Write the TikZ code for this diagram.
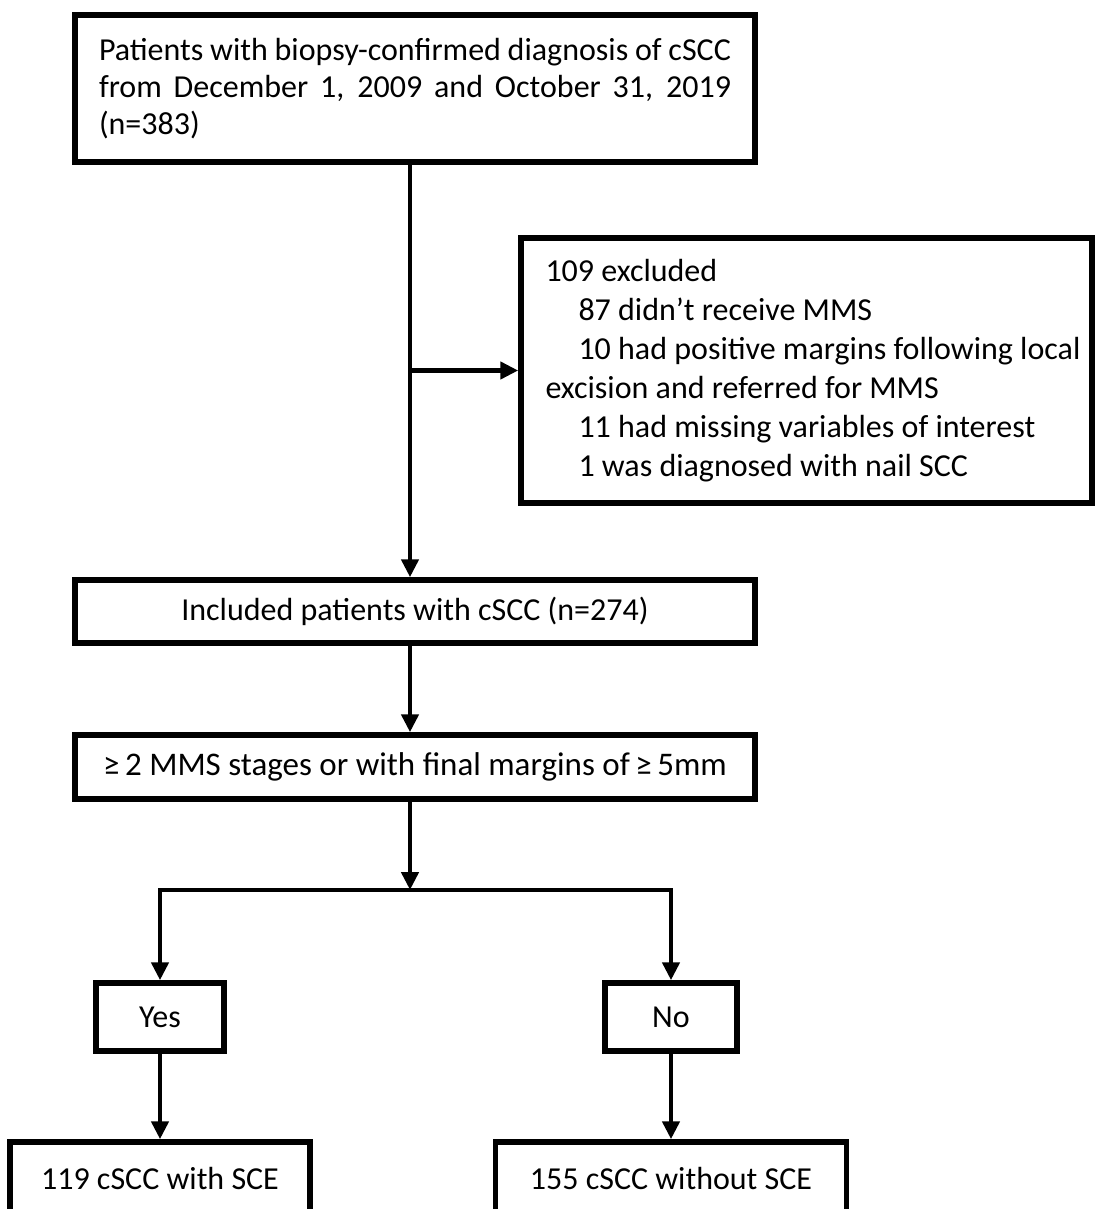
\documentclass[tikz,border=0pt]{standalone}
\usepackage{fontspec}
\setmainfont{Carlito}
\usetikzlibrary{arrows.meta,positioning}

\begin{document}
\begin{tikzpicture}[x=0.5pt,y=-0.5pt,
       box/.style={draw,line width=2.75pt,inner sep=0pt,align=center,font=\fontsize{16}{18.5}\selectfont},
       arr/.style={line width=2.25pt,-{Triangle[length=9pt,width=8.5pt]}}]
       \useasboundingbox (0,0) rectangle (1094,1209);

        \node[box,minimum width=340pt,minimum height=73.5pt] (top) at (415,88.5)
          {\parbox{316pt}{\makebox[316pt][s]{Patients with biopsy-confirmed diagnosis of cSCC}\\
           \makebox[316pt][s]{from December 1, 2009 and October 31, 2019}\\
           (n=383)}};
        \node[box,minimum width=285.5pt,minimum height=132.5pt,font=\fontsize{16}{19.5}\selectfont] (excl) at (806.5,370.5)
          {\parbox{261pt}{\hfuzz=20pt 109 excluded\\
           \hspace*{16.5pt}\mbox{87 didn’t receive MMS}\\
           \hspace*{16.5pt}\mbox{10 had positive margins following local}\\
           \mbox{excision and referred for MMS}\\
           \hspace*{16.5pt}\mbox{11 had missing variables of interest}\\
           \hspace*{16.5pt}\mbox{1 was diagnosed with nail SCC}}};
        \node[box,minimum width=340pt,minimum height=31.5pt] (incl) at (415,611.5) {Included patients with cSCC (n=274)};
        \node[box,minimum width=340pt,minimum height=32pt,font=\fontsize{16.5}{18.5}\selectfont] (crit) at (415,767) {≥\,2 MMS stages or with final margins of\,≥\,5mm};
        \node[box,minimum width=64pt,minimum height=34pt] (yes) at (160,1017) {Yes};
        \node[box,minimum width=66pt,minimum height=34pt] (no) at (671,1017) {No};
        \node[box,minimum width=150pt,minimum height=36pt] (yesout) at (160,1178) {119 cSCC with SCE};
        \node[box,minimum width=175.5pt,minimum height=36pt] (noout) at (671,1178) {155 cSCC without SCE};

        \coordinate (spine) at (410,0);
        \coordinate (split) at (410,890);

        \draw[arr] (top.south -| spine) -- (incl.north -| spine);
        \draw[arr] (spine |- excl.west) -- (excl.west);
        \draw[arr] (incl.south -| spine) -- (crit.north -| spine);
        \draw[arr] (crit.south -| spine) -- (split);
        \draw[arr] (split) -| (yes.north);
        \draw[arr] (split) -| (no.north);
        \draw[arr] (yes.south) -- (yesout.north);
        \draw[arr] (no.south) -- (noout.north);
      \end{tikzpicture}
\end{document}
